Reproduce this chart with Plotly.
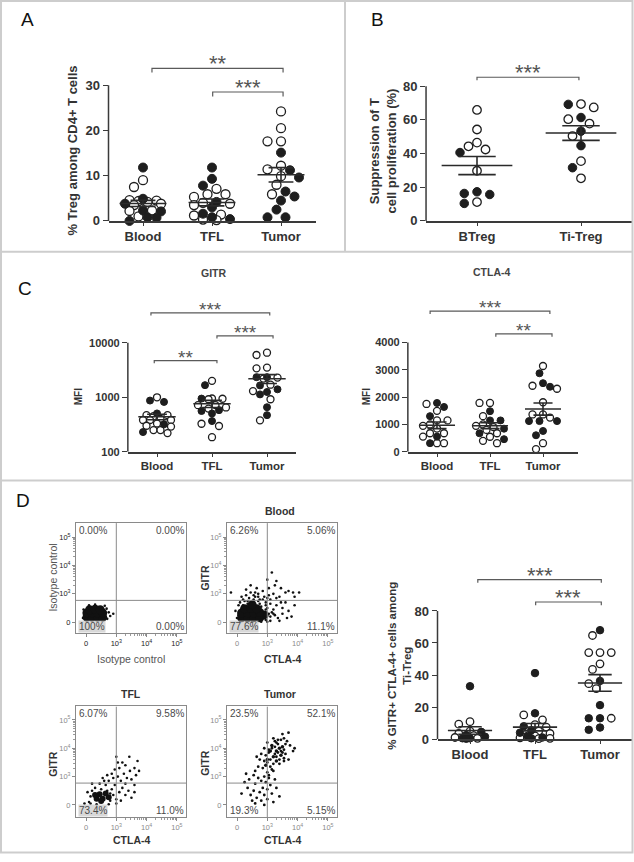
import numpy as np
import plotly.graph_objects as go

W, H = 634, 862
FONT = "Liberation Sans, Arial, Helvetica, sans-serif"
INK = "#1e1e1e"
AX = "#3a3a3a"
TXT = "#333333"
STAR = "#555555"
GRID = "#cdcdcd"

# ------------------------------------------------------------------ data
groups3 = ["Blood", "TFL", "Tumor"]

# A: % Treg among CD4+ T cells
a_filled = [[11.8, 4.9, 3.8, 2.3, 2.1, 0.8, 0.0, 0.7],
            [11.8, 9.3, 7.8, 4.2, 3.0, 1.6, 0.4, 0.8],
            [15.1, 11.2, 9.6, 6.5, 5.4, 4.5, 2.5, 0.8, 0.8]]
a_open = [[9.0, 7.5, 4.6, 4.5, 4.4, 4.2, 3.8, 3.5, 2.3, 2.2, 1.0],
          [7.1, 5.9, 5.9, 5.3, 4.0, 3.8, 3.5, 1.4, 1.2, 0.3, 0.2],
          [24.2, 20.5, 17.6, 17.6, 12.2, 11.4, 9.9, 8.0, 5.9]]
a_yticks = [0, 10, 20, 30]

# B: suppression of T cell proliferation (%)
b_groups = ["BTreg", "Ti-Treg"]
b_filled = [[40.6, 17.3, 16.3, 15.7, 10.4],
            [69.2, 61.4, 53.3, 44.7, 31.6]]
b_open = [[65.9, 54.3, 46.5, 44.3, 42.4, 29.8, 11.2],
          [69.4, 67.4, 60.4, 57.8, 50.4, 35.5, 25.3]]
b_yticks = [0, 20, 40, 60, 80]

# C: MFI of GITR (log) and CTLA-4
gitr_filled = [[871, 822, 505, 319, 230],
               [1670, 946, 580, 560, 505, 366],
               [2340, 2340, 1650, 1400, 1250, 1130, 657, 470]]
gitr_open = [[1000, 470, 470, 450, 400, 383, 383, 383, 330, 300, 290, 250, 250, 220],
             [2000, 950, 940, 920, 716, 716, 650, 620, 327, 297, 185],
             [6580, 5970, 3510, 3400, 2300, 2200, 1700, 1300, 920, 377]]
gitr_yticks = [100, 1000, 10000]

ctla_filled = [[1786, 1640, 1304, 555, 314],
               [1486, 1147, 1147, 845, 677, 460],
               [2874, 2511, 2380, 1123, 1123, 1123, 761, 604]]
ctla_open = [[1750, 1497, 1147, 1147, 1000, 950, 850, 677, 677, 555, 314, 314],
             [1786, 1786, 1304, 1000, 950, 900, 800, 677, 550, 400, 314],
             [3140, 2416, 2307, 1812, 1366, 1366, 1250, 314, 97]]
ctla_yticks = [0, 1000, 2000, 3000, 4000]

# D: % GITR+ CTLA-4+ cells among Ti-Treg
d_filled = [[33, 4.5, 2.5, 1.5, 0.5, 0.5, 0.2],
            [41.2, 16.1, 8.0, 5.5, 4.0, 2.0, 1.0, 0.5],
            [68, 36.3, 21.2, 13, 13, 7.2, 5.8]]
d_open = [[10.9, 9.3, 5.0, 3.5, 2.2, 1.0, 0.5],
          [15.1, 12.0, 9.0, 7.5, 5.0, 3.5, 2.0, 0.8, 0.5, 0.3],
          [64.7, 54, 54, 54, 47, 43.5, 34.6, 31.5, 13]]
d_yticks = [0, 20, 40, 60, 80]

# D: flow cytometry events (display units: 0 -> 0, 1 -> 10^3, 2 -> 10^4, 3 -> 10^5)
flow_ticks = ["0", "10<sup>3</sup>", "10<sup>4</sup>", "10<sup>5</sup>"]

iso_core_x = [0.03, 0.2, 0.38, 0.55, 0.03, 0.2, 0.38, 0.55, 0.12, 0.3, 0.47]
iso_core_y = [0.18, 0.18, 0.18, 0.18, 0.33, 0.33, 0.33, 0.33, 0.44, 0.46, 0.44]
iso_dots_x = [0.75, 0.7, -0.08, 0.62, 0.3, 0.8, 0.1, 0.68, -0.1, 0.9]
iso_dots_y = [0.35, 0.12, 0.45, 0.58, 0.62, 0.22, 0.6, 0.48, 0.15, 0.3]
iso_pct = ["0.00%", "0.00%", "100%", "0.00%"]

blood_core_x = [0.15, 0.35, 0.55, 0.75, 0.9, 0.15, 0.35, 0.55, 0.75, 0.25, 0.45, 0.65, 0.5]
blood_core_y = [0.16, 0.16, 0.16, 0.16, 0.26, 0.33, 0.33, 0.33, 0.35, 0.48, 0.5, 0.48, 0.62]
blood_dots_x = [0.9, 1.1, 1.2, 1.3, 1.4, 1.5, 1.6, 1.2, 1.0, 1.1, 1.35, 1.5, 1.7, 1.8, 1.9,
                1.25, 1.05, 0.85, 0.7, 0.6, 0.75, 0.95, 1.45, 1.6, 1.3, 1.0, 1.15, 0.45, 0.3,
                0.2, 0.05, -0.05, 0.0, 0.1, 0.5, 0.8, 0.95, 1.7, 1.85, 2.05, 1.4, 1.65, 0.55,
                0.35, 0.9, 0.75, 1.05, 0.65, 1.9, -0.2, 0.2, 0.35, 0.8, 0.95, 0.9, 0.05, 0.7,
                0.5, 1.1, 1.2, 0.1, 0.25, 0.4, 0.55, 0.7, 0.85, 1.0, 1.05, 1.15, 1.25, 1.1,
                0.95, 0.3, 0.15, 0.6, 0.45, 1.3, 1.45, 1.0]
blood_dots_y = [0.9, 0.8, 1.0, 0.6, 0.9, 0.5, 0.7, 0.3, 0.5, 0.2, 0.15, 0.3, 0.4, 0.2, 0.6,
                1.3, 1.2, 1.1, 1.0, 0.9, 0.8, 0.7, 1.2, 1.05, 1.45, 1.5, 1.75, 1.05, 0.95,
                0.8, 0.6, 0.4, 0.15, 0.05, 0.02, 0.02, 0.08, 1.1, 1.05, 1.05, 0.05, 0.15, 0.8,
                0.75, 0.35, 0.65, 0.95, 1.2, 0.9, 1.05, 0.6, 0.65, 0.55, 0.45, 0.15, 0.25, 0.75,
                0.75, 0.65, 0.45, 0.7, 0.75, 0.85, 0.95, 0.9, 0.8, 0.85, 0.3, 0.35, 0.25, 0.05,
                0.6, 1.15, 0.9, 1.05, 1.3, 0.85, 0.7, 0.02]
blood_pct = ["6.26%", "5.06%", "77.6%", "11.1%"]

tfl_core_x = [0.35, 0.55, 0.75, 0.45, 0.65, 0.3, 0.5]
tfl_core_y = [0.22, 0.22, 0.27, 0.38, 0.4, 0.35, 0.14]
tfl_dots_x = [0.1, 0.15, 0.2, 0.05, 0.3, 0.5, 0.7, 0.8, 0.9, 0.85, 0.95, 1.0, 1.1, 1.2, 1.3,
              1.4, 1.5, 1.6, 0.65, 0.75, 0.9, 1.05, 1.15, 1.25, 1.35, 1.45, 1.1, 0.95, 1.2,
              1.0, 1.43, 1.3, 1.6, 1.7, 0.85, 1.05, 0.7, 1.5, 1.65, 0.6, -0.05, 0.35, 0.75,
              0.2, 0.55, 1.3, 1.15, 1.0, 1.6, 1.75, 0.45, 0.8, 0.15]
tfl_dots_y = [0.1, 0.3, 0.5, 0.45, 0.6, 0.55, 0.5, 0.15, 0.35, 0.55, 0.7, 0.2, 0.45, 0.6, 0.35,
              0.5, 0.25, 0.7, 0.7, 0.85, 0.95, 1.0, 0.85, 1.1, 0.95, 1.2, 1.3, 1.25, 1.5,
              1.7, 1.7, 1.4, 1.3, 1.55, 1.1, 1.5, 1.05, 0.9, 1.05, 0.85, 0.05, 0.02, 0.02,
              0.75, 0.95, 0.75, 0.15, 0.05, 0.45, 1.2, 0.75, 0.4, 0.05]
tfl_pct = ["6.07%", "9.58%", "73.4%", "11.0%"]

tum_core_x = [1.1, 1.3, 1.2, 1.4, 1.0, 1.3, 1.5, 1.15, 1.45, 0.95]
tum_core_y = [1.9, 1.9, 1.7, 2.0, 1.6, 1.55, 2.05, 2.1, 1.75, 1.4]
tum_dots_x = [1.7, 1.55, 1.35, 1.2, 1.0, 0.9, 0.8, 0.75, 0.85, 1.6, 1.75, 1.85, 1.65, 1.05,
              1.25, 1.4, 1.55, 0.7, 0.6, 1.7, 1.9, 1.5, 1.3, 0.95, 0.65, 1.1, 1.2, 1.0,
              0.9, 1.05, 0.8, 0.7, 0.95, 1.1, 0.6, 0.85, 1.0, 0.75, 0.55, 0.9, 1.15, 0.65,
              0.8, 1.0, 0.5, 0.45, 0.35, 0.25, 0.15, 0.6, 0.9, 1.25, 1.3, 0.4, 0.55, 1.2,
              1.4, 0.3, 1.05, 1.15, 1.25, 1.35, 1.45, 1.55, 1.0, 1.1, 1.2, 1.3, 1.4, 1.5,
              0.9, 1.6, 1.25, 1.35, 1.15, 1.05, 1.45, 1.55]
tum_dots_y = [2.55, 2.35, 2.3, 2.35, 2.2, 2.0, 1.8, 1.6, 1.3, 1.8, 2.1, 1.9, 2.25, 1.85,
              2.05, 1.45, 1.55, 1.35, 1.2, 1.6, 2.0, 2.5, 2.2, 1.75, 1.7, 1.35, 1.2, 1.15,
              1.0, 0.95, 0.85, 0.95, 0.8, 0.7, 0.75, 0.6, 0.55, 0.45, 0.5, 0.35, 0.4, 0.25,
              0.15, 0.2, 0.15, 0.35, 0.6, 0.8, 0.4, 0.05, 0.0, 0.9, 0.6, 0.9, 1.05, 0.1,
              0.3, 1.1, 1.95, 2.0, 1.8, 1.85, 1.9, 1.95, 1.5, 1.6, 1.45, 1.7, 1.6, 1.85,
              1.55, 2.15, 2.25, 2.15, 1.25, 1.05, 2.3, 1.65]
tum_pct = ["23.5%", "52.1%", "19.3%", "5.15%"]

# ------------------------------------------------------------------ helpers
fig = go.Figure()
shapes, annos, axes = [], [], {}


def ids(i):
    s = "" if i == 1 else str(i)
    return "x" + s, "y" + s, "xaxis" + s, "yaxis" + s


def span(pa, va, pb, vb, r0, r1):
    s = (pb - pa) / (vb - va)
    return pa + (r0 - va) * s, pa + (r1 - va) * s


def px(p):
    return p / W


def py(p):
    return 1 - p / H


def font(size, color=TXT, bold=False):
    d = dict(family=FONT, size=size, color=color)
    if bold:
        d["weight"] = "bold"
    return d


def text(x, y, s, size, color=TXT, bold=False, angle=0, **kw):
    annos.append(dict(x=px(x), y=py(y), xref="paper", yref="paper", text=s, showarrow=False,
                      font=font(size, color, bold), textangle=angle, xanchor="center",
                      yanchor="middle", **kw))


def swarm(vals, ppu, ppc, diam, log, maxw=0.27):
    ys = [(np.log10(v) if log else v) * ppu for v in vals]
    order = sorted(range(len(vals)), key=lambda k: -ys[k])
    step = diam * 0.5
    lim = maxw * ppc
    cands = [0.0]
    n = 1
    while n * step <= lim:
        cands += [-n * step, n * step]
        n += 1
    placed, offs = [], [0.0] * len(vals)
    for k in order:
        best, bestd = 0.0, -1.0
        for c in cands:
            dmin = min([np.hypot(c - a, ys[k] - b) for a, b in placed] or [1e9])
            if dmin >= diam * 1.08:
                best = c
                break
            if dmin > bestd + 0.5:
                bestd, best = dmin, c
        placed.append((best, ys[k]))
        offs[k] = best / ppc
    return offs


def dot_panel(i, cats, filled, opened, xcal, ycal, xr, yr, yticks, diam, tick_size,
              cat_size, log=False):
    xs, ys, xa, ya = ids(i)
    pl, pr = span(*xcal, *xr)
    pb, pt = span(*ycal, *yr)
    axes[xa] = dict(domain=[px(pl), px(pr)], range=xr, anchor=ys, showgrid=False,
                    zeroline=False, showline=True, linecolor=AX, linewidth=1.5,
                    ticks="outside", ticklen=3, tickwidth=1.2, tickcolor=AX,
                    tickvals=list(range(len(cats))), ticktext=cats,
                    tickfont=font(cat_size, TXT, True), fixedrange=True)
    axes[ya] = dict(domain=[py(pb), py(pt)], range=yr, anchor=xs,
                    type="log" if log else "linear", showgrid=False, zeroline=False,
                    showline=False, ticks="outside", ticklen=5, tickwidth=1.3, tickcolor=AX,
                    tickvals=yticks, ticktext=[str(t) for t in yticks],
                    tickfont=font(tick_size, TXT, True), fixedrange=True)
    shapes.append(dict(type="line", xref=xs + " domain", x0=0, x1=0, yref=ys,
                       y0=yticks[0], y1=yticks[-1], line=dict(color=AX, width=1.5)))
    ppc = (xcal[2] - xcal[0]) / (xcal[3] - xcal[1])
    ppu = abs((ycal[2] - ycal[0]) / (ycal[3] - ycal[1]))
    fx, fy, ox, oy, lx, ly = [], [], [], [], [], []
    for k in range(len(cats)):
        vals = filled[k] + opened[k]
        offs = swarm(vals, ppu, ppc, diam, log)
        nf = len(filled[k])
        fx += [k + o for o in offs[:nf]]
        fy += filled[k]
        ox += [k + o for o in offs[nf:]]
        oy += opened[k]
        arr = np.array(vals, float)
        m = arr.mean()
        se = arr.std(ddof=1) / np.sqrt(len(arr))
        lx += [k - 0.34, k + 0.34, None, k - 0.18, k + 0.18, None,
               k - 0.18, k + 0.18, None, k, k, None]
        ly += [m, m, None, m + se, m + se, None, m - se, m - se, None, m - se, m + se, None]
    fig.add_trace(go.Scatter(x=ox, y=oy, xaxis=xs, yaxis=ys, mode="markers", cliponaxis=False,
                             marker=dict(size=diam, color="white", line=dict(color=INK, width=1.3)),
                             hoverinfo="skip"))
    fig.add_trace(go.Scatter(x=fx, y=fy, xaxis=xs, yaxis=ys, mode="markers", cliponaxis=False,
                             marker=dict(size=diam, color=INK, line=dict(color=INK, width=1)),
                             hoverinfo="skip"))
    fig.add_trace(go.Scatter(x=lx, y=ly, xaxis=xs, yaxis=ys, mode="lines", cliponaxis=False,
                             line=dict(color="#2a2a2a", width=1.6), hoverinfo="skip"))


def bracket(i, x0, x1, y, drop, label, size, log=False, shift=-10):
    xs, ys, _, _ = ids(i)
    if log:
        yv, yl, ya = 10 ** y, 10 ** (y - drop), y
    else:
        yv, yl, ya = y, y - drop, y
    fig.add_trace(go.Scatter(x=[x0, x0, x1, x1], y=[yl, yv, yv, yl], xaxis=xs, yaxis=ys,
                             mode="lines", line=dict(color="#5a5a5a", width=1.2),
                             hoverinfo="skip"))
    annos.append(dict(x=(x0 + x1) / 2, y=ya, xref=xs, yref=ys, text=label, showarrow=False,
                      font=font(size, STAR), yanchor="bottom", yshift=shift))


def flow_panel(i, box, yr, core_x, core_y, core_size, dots_x, dots_y, dot_size, pct,
               tick_col, bl_bg):
    xs, ys, xa, ya = ids(i)
    l, r, t, b = box
    xr = [-0.33, 3.3]
    minor_vals = [d + np.log10(k) for d in (1, 2) for k in range(2, 10)]
    common = dict(showgrid=False, zeroline=False, showline=True, mirror=True,
                  linecolor="#8a8a8a", linewidth=1, ticks="outside", ticklen=3,
                  tickcolor="#8a8a8a", tickvals=[0, 1, 2, 3], ticktext=flow_ticks,
                  tickfont=font(7.5, tick_col), fixedrange=True,
                  minor=dict(tickvals=minor_vals, ticks="outside", ticklen=2,
                             tickcolor="#9a9a9a"))
    axes[xa] = dict(domain=[px(l), px(r)], range=xr, anchor=ys, **common)
    axes[ya] = dict(domain=[py(b), py(t)], range=yr, anchor=xs, **common)
    shapes.append(dict(type="line", xref=xs, yref=ys, x0=1.0, x1=1.0, y0=yr[0], y1=yr[1],
                       line=dict(color="#8a8a8a", width=1)))
    shapes.append(dict(type="line", xref=xs, yref=ys, x0=xr[0], x1=xr[1], y0=0.77, y1=0.77,
                       line=dict(color="#8a8a8a", width=1)))
    fig.add_trace(go.Scatter(x=core_x, y=core_y, xaxis=xs, yaxis=ys, mode="markers",
                             marker=dict(size=core_size, color="#111111", line=dict(width=0)),
                             hoverinfo="skip"))
    fig.add_trace(go.Scatter(x=dots_x, y=dots_y, xaxis=xs, yaxis=ys, mode="markers",
                             marker=dict(size=dot_size, color="#111111", line=dict(width=0)),
                             hoverinfo="skip"))
    pos = [(0.02, 0.995, "left", "top"), (0.99, 0.995, "right", "top"),
           (0.02, 0.005, "left", "bottom"), (0.99, 0.005, "right", "bottom")]
    for (xx, yy, xan, yan), s in zip(pos, pct):
        extra = {}
        if bl_bg and xx < 0.5 and yy < 0.5:
            extra = dict(bgcolor="rgba(190,190,190,0.6)")
        annos.append(dict(x=xx, y=yy, xref=xs + " domain", yref=ys + " domain", text=s,
                          showarrow=False, font=font(10, "#4a4a4a"), xanchor=xan,
                          yanchor=yan, borderpad=0, **extra))


# ------------------------------------------------------------------ panel A
dot_panel(1, groups3, a_filled, a_open, (143, 0, 212, 1), (223, 0, 86, 30),
          [-0.5, 2.5], [0, 37.5], a_yticks, 9, 13, 13)
bracket(1, 0.13, 2.03, 33.7, 0.9, "**", 22)
bracket(1, 1.01, 2.03, 28.5, 1.0, "***", 22)
text(27, 20, "A", 19, "#111111")
text(73, 152, "% Treg among CD4+ T cells", 13, TXT, True, -90)

# ------------------------------------------------------------------ panel B
dot_panel(2, b_groups, b_filled, b_open, (477, 0, 581, 1), (223, 0, 87, 80),
          [-0.49, 1.49], [0, 96], b_yticks, 8.5, 13, 13)
bracket(2, 0.0, 0.98, 85.3, 1.8, "***", 22)
text(377, 20, "B", 19, "#111111")
text(383, 153, "Suppression of T<br>cell proliferation (%)", 13, TXT, True, -90)

# ------------------------------------------------------------------ panel C
dot_panel(3, groups3, gitr_filled, gitr_open, (157, 0, 212, 1), (456, 2, 346, 4),
          [-0.53, 2.52], [2, 4.75], gitr_yticks, 7, 11, 11.5, log=True)
bracket(3, -0.11, 2.05, 4.55, 0.05, "***", 19, log=True, shift=-9)
bracket(3, 1.09, 2.11, 4.127, 0.05, "***", 19, log=True, shift=-9)
bracket(3, -0.05, 1.09, 3.673, 0.05, "**", 19, log=True, shift=-9)
dot_panel(4, groups3, ctla_filled, ctla_open, (437, 0, 490, 1), (456, 0, 345.7, 4000),
          [-0.55, 2.66], [0, 5500], ctla_yticks, 7, 11, 11.5)
bracket(4, -0.13, 2.13, 5150, 110, "***", 19, shift=-9)
bracket(4, 1.11, 2.17, 4316, 110, "**", 19, shift=-9)
text(25, 291, "C", 19, "#111111")
text(213, 276, "GITR", 10.5, "#444444", True)
text(491, 275, "CTLA-4", 10.5, "#444444", True)
text(78, 401, "MFI", 10, TXT, True, -90)
text(366, 401, "MFI", 10, TXT, True, -90)

# ------------------------------------------------------------------ panel D (dot plot)
dot_panel(5, groups3, d_filled, d_open, (470, 0, 535, 1), (746, 0, 616.7, 80),
          [-0.5, 2.49], [0, 112], d_yticks, 7.5, 13, 13)
bracket(5, 0.12, 2.02, 99.6, 2, "***", 22)
bracket(5, 1.01, 2.02, 85.6, 2, "***", 22)
text(23, 505, "D", 19, "#111111")
text(400, 672, "% GITR+ CTLA-4+ cells among<br>Ti-Treg", 11.5, TXT, True, -90)

# ------------------------------------------------------------------ panel D (flow plots)
flow_panel(6, (76, 186, 528, 639), [-0.38, 3.49], iso_core_x, iso_core_y, 9,
           iso_dots_x, iso_dots_y, 2.6, iso_pct, "#222222", True)
flow_panel(7, (227, 337, 528, 639), [-0.38, 3.49], blood_core_x, blood_core_y, 9,
           blood_dots_x, blood_dots_y, 2.6, blood_pct, "#8a8a8a", True)
flow_panel(8, (76, 186, 713, 825), [-0.44, 3.48], tfl_core_x, tfl_core_y, 6,
           tfl_dots_x, tfl_dots_y, 2.6, tfl_pct, "#8a8a8a", True)
flow_panel(9, (227, 337, 713, 825), [-0.44, 3.48], tum_core_x, tum_core_y, 3.5,
           tum_dots_x, tum_dots_y, 2.8, tum_pct, "#8a8a8a", False)

text(53, 583, "Isotype control", 10.5, "#555555", False, -90)
text(131, 665, "Isotype control", 10.5, "#555555")
text(280, 516, "Blood", 10.5, TXT, True)
text(205, 584, "GITR", 10.5, TXT, True, -90)
text(282, 665, "CTLA-4", 10.5, TXT, True)
text(131, 701, "TFL", 10.5, TXT, True)
text(53, 771, "GITR", 10.5, TXT, True, -90)
text(131, 848, "CTLA-4", 10.5, TXT, True)
text(280, 701, "Tumor", 10.5, TXT, True)
text(205, 771, "GITR", 10.5, TXT, True, -90)
text(282, 848, "CTLA-4", 10.5, TXT, True)

# ------------------------------------------------------------------ panel frames
frame = dict(color=GRID, width=2)
shapes.append(dict(type="rect", xref="paper", yref="paper", x0=px(1), x1=px(632.5),
                   y0=py(860.5), y1=py(1), line=frame))
shapes.append(dict(type="line", xref="paper", yref="paper", x0=px(1), x1=px(632.5),
                   y0=py(254), y1=py(254), line=frame))
shapes.append(dict(type="line", xref="paper", yref="paper", x0=px(1), x1=px(632.5),
                   y0=py(485), y1=py(485), line=frame))
shapes.append(dict(type="line", xref="paper", yref="paper", x0=px(345), x1=px(345),
                   y0=py(254), y1=py(1), line=frame))

fig.update_layout(width=W, height=H, margin=dict(l=0, r=0, t=0, b=0),
                  paper_bgcolor="white", plot_bgcolor="rgba(0,0,0,0)", showlegend=False,
                  hovermode=False, shapes=shapes, annotations=annos, **axes)
fig.write_html("out.html", config={"displayModeBar": False},
               post_script="document.body.style.margin='0';document.body.style.overflow='hidden';")
